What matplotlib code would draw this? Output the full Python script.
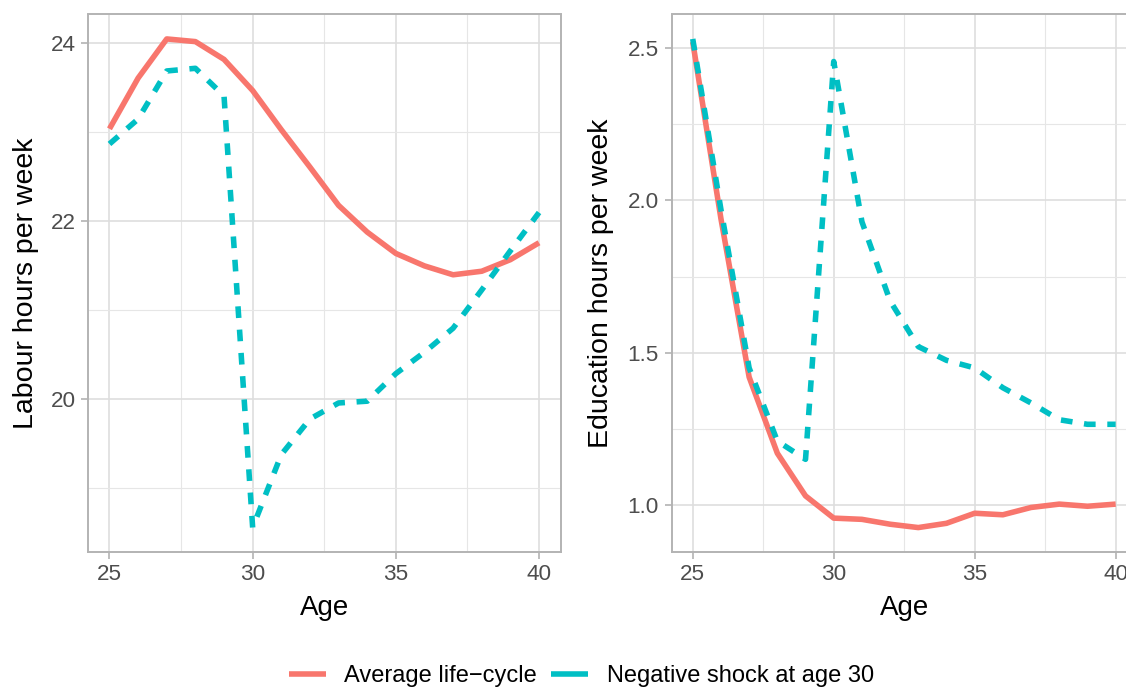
import numpy as np
import matplotlib
matplotlib.use("Agg")
from matplotlib import pyplot as plt
from matplotlib.lines import Line2D

# data
ages = list(range(25, 41))

labour_avg = [23.04, 23.61, 24.05, 24.02, 23.82, 23.47, 23.03, 22.61, 22.18,
              21.88, 21.64, 21.50, 21.40, 21.44, 21.57, 21.76]
labour_shock = [22.87, 23.15, 23.69, 23.72, 23.41, 18.56, 19.38, 19.78, 19.96,
                19.98, 20.29, 20.53, 20.80, 21.23, 21.67, 22.10]

educ_avg = [2.52, 1.94, 1.42, 1.17, 1.03, 0.957, 0.953, 0.937, 0.926,
            0.940, 0.973, 0.968, 0.992, 1.003, 0.996, 1.003]
educ_shock = [2.53, 1.97, 1.45, 1.21, 1.15, 2.456, 1.93, 1.67, 1.52,
              1.475, 1.45, 1.385, 1.335, 1.28, 1.265, 1.265]

series_names = ["Average life\u2212cycle", "Negative shock at age 30"]
series_colors = ["#F8766D", "#00BFC4"]

x_major = [25, 30, 35, 40]
x_minor = [27.5, 32.5, 37.5]
labour_major = [20, 22, 24]
labour_minor = [19, 21, 23]
educ_major = [1.0, 1.5, 2.0, 2.5]
educ_minor = [1.25, 1.75, 2.25]

plt.rcParams['font.family'] = ['Liberation Sans', 'DejaVu Sans']

W, H = 1126, 690
fig = plt.figure(figsize=(W / 100, H / 100), dpi=100)

# panel boxes in pixels (the right one runs past the image edge, as in the reference)
ax1 = fig.add_axes([88 / W, (H - 552) / H, (560.5 - 88) / W, (552 - 14.5) / H])
ax2 = fig.add_axes([671.6 / W, (H - 552) / H, (1136.8 - 671.6) / W, (552 - 14.5) / H])

lw = 4.0
dash = (0, (2.1, 2.1))


def expand(vals):
    lo, hi = min(vals), max(vals)
    r = hi - lo
    return lo - 0.05 * r, hi + 0.05 * r


def style(ax, yvals, ymaj, ymin, yfmt, ylabel, ylab_x):
    ax.set_xlim(24.25, 40.75)
    ax.set_ylim(*expand(yvals))
    ax.set_xticks(x_major)
    ax.set_xticks(x_minor, minor=True)
    ax.set_yticks(ymaj)
    ax.set_yticks(ymin, minor=True)
    ax.set_yticklabels([yfmt.format(v) for v in ymaj])
    ax.grid(which='major', color='#DEDEDE', lw=1.2)
    ax.grid(which='minor', color='#E6E6E6', lw=0.8)
    ax.set_axisbelow(True)
    for s in ax.spines.values():
        s.set_color('#B3B3B3')
        s.set_linewidth(1.4)
    ax.tick_params(which='major', length=5, width=1.2, color='#B3B3B3',
                   labelsize=16.2, labelcolor='#4D4D4D', pad=4.0)
    ax.tick_params(which='minor', length=0)
    ax.set_xlabel("Age", fontsize=20, labelpad=7)
    ax.set_ylabel(ylabel, fontsize=20.5, va='center')
    ax.yaxis.set_label_coords(ylab_x, 0.5)


ax1.plot(ages, labour_avg, color=series_colors[0], lw=lw, solid_capstyle='butt')
ax1.plot(ages, labour_shock, color=series_colors[1], lw=lw, ls=dash)
ax2.plot(ages, educ_avg, color=series_colors[0], lw=lw, solid_capstyle='butt')
ax2.plot(ages, educ_shock, color=series_colors[1], lw=lw, ls=dash)

style(ax1, labour_avg + labour_shock, labour_major, labour_minor, "{:g}",
      "Labour hours per week", (26 - 88) / 472.5)
style(ax2, educ_avg + educ_shock, educ_major, educ_minor, "{:.1f}",
      "Education hours per week", (601 - 671.6) / 465.2)

# legend keys are solid in the reference
handles = [Line2D([], [], color=c, lw=lw, solid_capstyle='butt') for c in series_colors]
fig.legend(handles, series_names, loc='center', ncol=2,
           bbox_to_anchor=(581.5 / W, (H - 676) / H), frameon=False,
           fontsize=17, handlelength=1.55, handletextpad=0.8, columnspacing=0.6)

fig.savefig("out.png", dpi=100)
